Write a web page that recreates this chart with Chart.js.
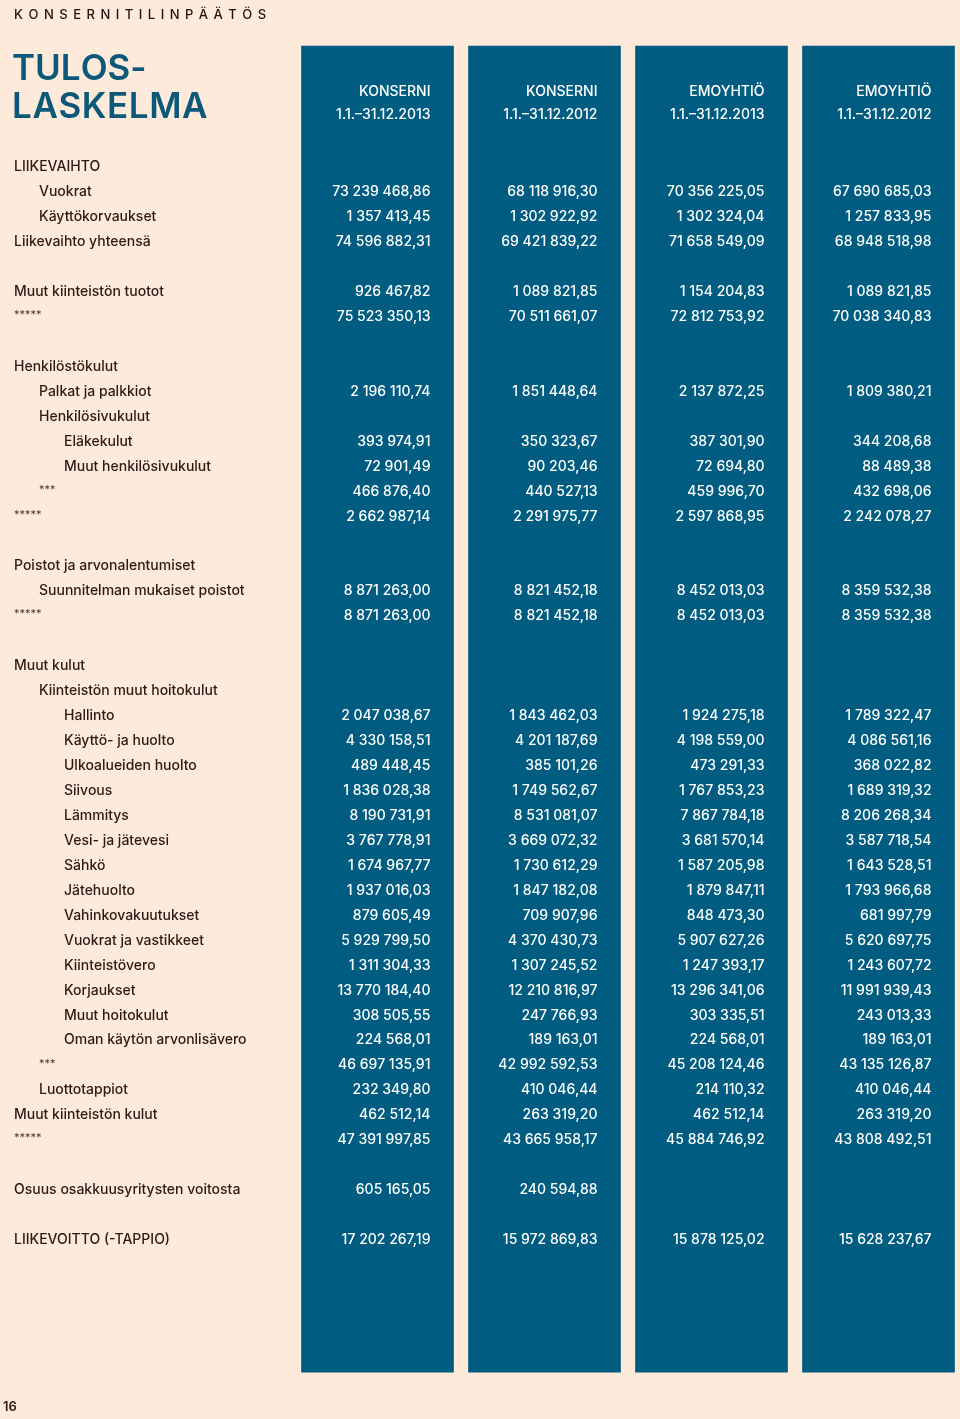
<!DOCTYPE html>
<html lang="fi">
<head>
<meta charset="utf-8">
<title>Tuloslaskelma</title>
<script src="https://cdn.jsdelivr.net/npm/chart.js@4.4.1/dist/chart.umd.min.js"></script>
<style>
  html, body { margin: 0; padding: 0; background: #fdeada; }
  #wrap { width: 960px; height: 1419px; }
</style>
</head>
<body>
<div id="wrap"><canvas id="myChart" width="960" height="1419"></canvas></div>
<script>
// rivit: nimi ja sisennystaso
const rowLabels = [
  'LIIKEVAIHTO', 'Vuokrat', 'Käyttökorvaukset', 'Liikevaihto yhteensä', '',
  'Muut kiinteistön tuotot', '*****', '',
  'Henkilöstökulut', 'Palkat ja palkkiot', 'Henkilösivukulut', 'Eläkekulut', 'Muut henkilösivukulut', '***', '*****', '',
  'Poistot ja arvonalentumiset', 'Suunnitelman mukaiset poistot', '*****', '',
  'Muut kulut', 'Kiinteistön muut hoitokulut', 'Hallinto', 'Käyttö- ja huolto', 'Ulkoalueiden huolto', 'Siivous',
  'Lämmitys', 'Vesi- ja jätevesi', 'Sähkö', 'Jätehuolto', 'Vahinkovakuutukset', 'Vuokrat ja vastikkeet',
  'Kiinteistövero', 'Korjaukset', 'Muut hoitokulut', 'Oman käytön arvonlisävero', '***',
  'Luottotappiot', 'Muut kiinteistön kulut', '*****', '',
  'Osuus osakkuusyritysten voitosta', '',
  'LIIKEVOITTO (-TAPPIO)'
];
const rowIndent = [
  0, 1, 1, 0, 0,
  0, 0, 0,
  0, 1, 1, 2, 2, 1, 0, 0,
  0, 1, 0, 0,
  0, 1, 2, 2, 2, 2,
  2, 2, 2, 2, 2, 2,
  2, 2, 2, 2, 1,
  1, 0, 0, 0,
  0, 0,
  0
];

const columnNames = ['KONSERNI', 'KONSERNI', 'EMOYHTIÖ', 'EMOYHTIÖ'];
const columnPeriods = ['1.1.–31.12.2013', '1.1.–31.12.2012', '1.1.–31.12.2013', '1.1.–31.12.2012'];

const konserni2013 = [
  null, 73239468.86, 1357413.45, 74596882.31, null,
  926467.82, 75523350.13, null,
  null, 2196110.74, null, 393974.91, 72901.49, 466876.40, 2662987.14, null,
  null, 8871263.00, 8871263.00, null,
  null, null, 2047038.67, 4330158.51, 489448.45, 1836028.38,
  8190731.91, 3767778.91, 1674967.77, 1937016.03, 879605.49, 5929799.50,
  1311304.33, 13770184.40, 308505.55, 224568.01, 46697135.91,
  232349.80, 462512.14, 47391997.85, null,
  605165.05, null,
  17202267.19
];
const konserni2012 = [
  null, 68118916.30, 1302922.92, 69421839.22, null,
  1089821.85, 70511661.07, null,
  null, 1851448.64, null, 350323.67, 90203.46, 440527.13, 2291975.77, null,
  null, 8821452.18, 8821452.18, null,
  null, null, 1843462.03, 4201187.69, 385101.26, 1749562.67,
  8531081.07, 3669072.32, 1730612.29, 1847182.08, 709907.96, 4370430.73,
  1307245.52, 12210816.97, 247766.93, 189163.01, 42992592.53,
  410046.44, 263319.20, 43665958.17, null,
  240594.88, null,
  15972869.83
];
const emo2013 = [
  null, 70356225.05, 1302324.04, 71658549.09, null,
  1154204.83, 72812753.92, null,
  null, 2137872.25, null, 387301.90, 72694.80, 459996.70, 2597868.95, null,
  null, 8452013.03, 8452013.03, null,
  null, null, 1924275.18, 4198559.00, 473291.33, 1767853.23,
  7867784.18, 3681570.14, 1587205.98, 1879847.11, 848473.30, 5907627.26,
  1247393.17, 13296341.06, 303335.51, 224568.01, 45208124.46,
  214110.32, 462512.14, 45884746.92, null,
  null, null,
  15878125.02
];
const emo2012 = [
  null, 67690685.03, 1257833.95, 68948518.98, null,
  1089821.85, 70038340.83, null,
  null, 1809380.21, null, 344208.68, 88489.38, 432698.06, 2242078.27, null,
  null, 8359532.38, 8359532.38, null,
  null, null, 1789322.47, 4086561.16, 368022.82, 1689319.32,
  8206268.34, 3587718.54, 1643528.51, 1793966.68, 681997.79, 5620697.75,
  1243607.72, 11991939.43, 243013.33, 189163.01, 43135126.87,
  410046.44, 263319.20, 43808492.51, null,
  null, null,
  15628237.67
];
const columns = [konserni2013, konserni2012, emo2013, emo2012];

// sarakkeiden sininen tausta riviyksiköissä (ylä- ja alareuna)
const bandTop = -4.77;
const bandBottom = 48.38;

const FONT = 'Inter, "Noto Sans", sans-serif';
const DARK = '#2a1c14';
const TEXT_SHIFT = 2;

function fiNumber(v) {
  const parts = v.toFixed(2).split('.');
  const int = parts[0].replace(/\B(?=(\d{3})+(?!\d))/g, ' ');
  return int + ',' + parts[1];
}

function spaced(ctx, text, x, y, gap) {
  let cx = x;
  for (const ch of text) {
    ctx.fillText(ch, cx, y);
    cx += ctx.measureText(ch).width + gap;
  }
}

const tablePlugin = {
  id: 'taulukko',
  beforeDraw(chart) {
    const ctx = chart.ctx;
    ctx.save();
    ctx.fillStyle = '#fdeada';
    ctx.fillRect(0, 0, chart.width, chart.height);
    ctx.restore();
  },
  afterDatasetsDraw(chart) {
    const ctx = chart.ctx;
    const xs = chart.scales.x;
    const ys = chart.scales.y;
    const half = chart.getDatasetMeta(0).data[0].width / 2;
    ctx.save();
    ctx.textBaseline = 'middle';

    // otsikot
    ctx.fillStyle = '#1e140f';
    ctx.font = '500 13px ' + FONT;
    ctx.textAlign = 'left';
    spaced(ctx, 'KONSERNITILINPÄÄTÖS', 14, 15, 5.5);
    ctx.fillStyle = '#0b5878';
    ctx.font = '600 35px ' + FONT;
    spaced(ctx, 'TULOS-', 12, 69, 0);
    spaced(ctx, 'LASKELMA', 12, 107, 0.6);

    // sarakeotsikot
    ctx.fillStyle = '#ffffff';
    ctx.textAlign = 'right';
    ctx.font = '500 14px ' + FONT;
    columns.forEach((col, c) => {
      const right = xs.getPixelForValue(c) + half - 23;
      ctx.fillText(columnNames[c], right, ys.getPixelForValue(-3.0) + TEXT_SHIFT);
      ctx.fillText(columnPeriods[c], right, ys.getPixelForValue(-2.08) + TEXT_SHIFT);
    });

    // rivit
    rowLabels.forEach((label, r) => {
      const y = ys.getPixelForValue(r) + TEXT_SHIFT;
      if (label) {
        const x = 14 + rowIndent[r] * 25;
        ctx.textAlign = 'left';
        if (label.startsWith('*')) {
          ctx.fillStyle = '#4a3d36';
          ctx.font = '400 11px ' + FONT;
          ctx.fillText(label, x, y - 2);
        } else {
          ctx.fillStyle = DARK;
          ctx.font = '500 14px ' + FONT;
          ctx.fillText(label, x, y);
        }
      }
      ctx.textAlign = 'right';
      ctx.fillStyle = '#ffffff';
      ctx.font = '500 14px ' + FONT;
      columns.forEach((col, c) => {
        if (col[r] === null) return;
        const right = xs.getPixelForValue(c) + half - 23;
        ctx.fillText(fiNumber(col[r]), right, y);
      });
    });

    // sivunumero
    ctx.textAlign = 'left';
    ctx.fillStyle = DARK;
    ctx.font = '600 13px ' + FONT;
    ctx.fillText('16', 3, 1407);
    ctx.restore();
  }
};

const ctx = document.getElementById('myChart');
new Chart(ctx, {
  type: 'bar',
  data: {
    datasets: [{
      data: columns.map((col, c) => ({ x: c, y: [bandTop, bandBottom] })),
      backgroundColor: '#005c80',
      borderWidth: 0,
      barThickness: 152,
      maxBarThickness: 152
    }]
  },
  options: {
    responsive: false,
    animation: false,
    layout: { padding: { left: 294, right: 0, top: 0, bottom: 0 } },
    plugins: {
      legend: { display: false },
      tooltip: { enabled: false }
    },
    scales: {
      x: { type: 'linear', offset: false, min: -0.5, max: 3.488, display: false },
      y: { type: 'linear', reverse: true, min: -6.613, max: 50.26, display: false }
    }
  },
  plugins: [tablePlugin]
});
</script>
</body>
</html>
